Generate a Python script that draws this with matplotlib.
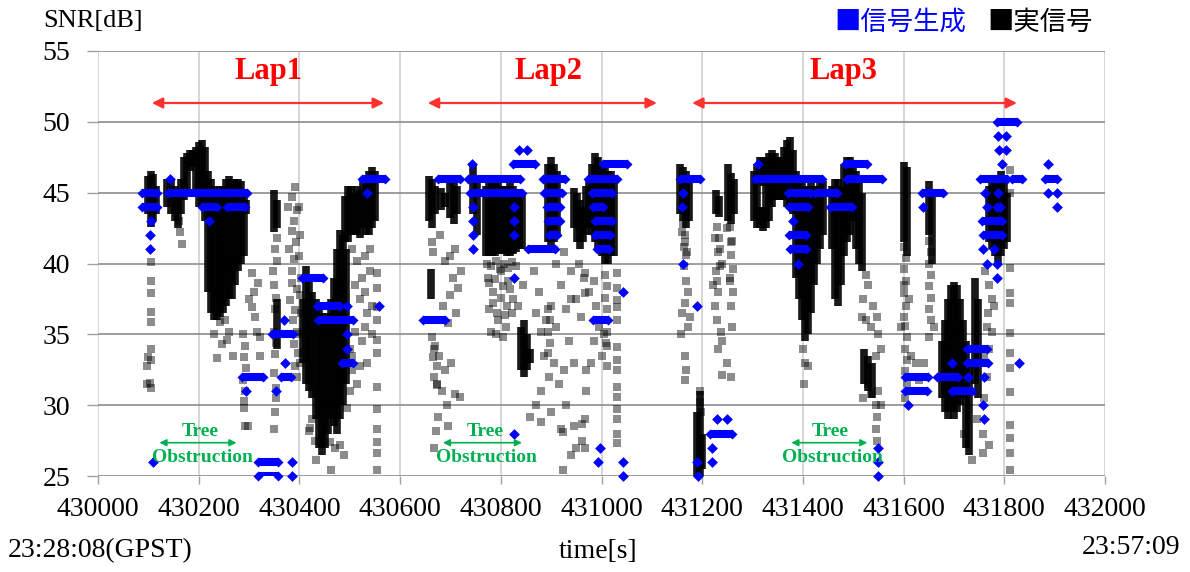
import matplotlib
matplotlib.use("Agg")
import matplotlib.pyplot as plt

# ---------------- data ----------------
# dense parts of the measured signal: (time, lowest SNR, highest SNR)
lap1_dense = [
    (430100, 43.5, 46.2), (430105, 42.6, 46.5), (430110, 43.0, 46.3), (430115, 43.5, 45.5),
    (430138, 44.0, 46.0), (430145, 43.5, 46.0), (430152, 43.0, 45.5), (430158, 42.5, 45.2), (430165, 43.5, 46.0),
    (430170, 44.5, 47.5), (430176, 45.0, 47.8), (430182, 46.5, 48.0), (430188, 46.8, 48.0), (430194, 45.0, 48.2),
    (430200, 44.0, 48.6), (430206, 44.0, 48.7), (430212, 43.0, 48.2),
    (430218, 38.0, 46.5), (430224, 36.5, 46.0), (430230, 36.0, 45.5), (430236, 36.0, 45.2), (430242, 36.2, 45.5),
    (430248, 36.5, 45.5), (430254, 37.0, 46.0), (430260, 37.5, 46.2), (430266, 37.5, 46.0), (430272, 38.5, 46.0),
    (430278, 39.5, 46.0), (430284, 40.0, 45.8), (430290, 40.5, 45.0),
    (430294, 43.5, 44.5),
    (430350, 42.2, 45.2), (430356, 42.5, 44.5), (430355, 34.0, 37.5),
    (430408, 33.0, 37.5), (430414, 31.5, 39.8), (430420, 31.0, 39.0), (430426, 30.5, 38.0), (430432, 29.0, 37.5),
    (430438, 27.0, 37.0), (430444, 26.5, 36.5), (430450, 27.0, 36.0), (430456, 28.0, 36.5), (430462, 29.0, 37.5),
    (430468, 28.5, 39.0), (430474, 28.0, 41.0), (430480, 29.0, 42.4), (430486, 30.0, 42.0), (430492, 31.5, 41.0),
    (430490, 41.5, 44.8), (430496, 41.5, 45.5), (430502, 42.0, 45.5), (430508, 42.0, 45.0), (430514, 42.0, 45.5),
    (430520, 41.8, 45.2), (430526, 42.5, 45.8), (430532, 42.0, 46.2), (430538, 42.0, 46.5), (430544, 42.5, 46.8),
    (430550, 43.0, 46.5),
]
lap2_dense = [
    (430658, 43.0, 46.2), (430664, 42.5, 46.0), (430670, 43.5, 45.5), (430682, 43.8, 45.3), (430690, 44.0, 45.0),
    (430700, 43.2, 45.9), (430708, 42.8, 46.0), (430714, 43.5, 45.5), (430662, 37.5, 39.6),
    (430745, 43.5, 47.0), (430752, 42.0, 46.0),
    (430770, 40.5, 45.5), (430776, 40.5, 46.0), (430782, 40.5, 46.0), (430788, 40.5, 46.0), (430794, 40.7, 46.0),
    (430800, 40.7, 45.5), (430806, 40.7, 45.5), (430812, 40.5, 45.5), (430818, 40.5, 46.0), (430824, 40.7, 45.5),
    (430830, 40.8, 45.0), (430836, 41.0, 45.0), (430842, 41.0, 45.0),
    (430840, 32.5, 35.5), (430846, 32.0, 36.0), (430852, 32.5, 35.0), (430858, 33.0, 34.0),
    (430894, 41.5, 47.0), (430900, 41.0, 47.5), (430906, 41.5, 47.0), (430912, 42.0, 46.5),
    (430945, 42.5, 45.3), (430952, 41.5, 45.0), (430958, 41.0, 44.5), (430964, 41.5, 44.0), (430970, 42.0, 45.5),
    (430976, 42.5, 46.0), (430982, 42.0, 47.0), (430988, 41.5, 47.8), (430994, 41.0, 47.5), (431000, 40.5, 47.0),
    (431006, 40.0, 47.0), (431012, 40.0, 46.5), (431018, 40.5, 46.5), (431024, 40.5, 46.0),
]
lap3_dense = [
    (431156, 43.5, 47.0), (431162, 43.0, 46.8), (431168, 42.5, 46.5), (431174, 43.0, 46.0),
    (431190, 25.0, 29.5), (431196, 24.8, 31.0), (431200, 25.5, 28.0),
    (431228, 43.5, 45.2), (431234, 43.3, 44.8),
    (431252, 43.0, 47.0), (431258, 42.8, 46.4), (431264, 43.5, 46.0),
    (431302, 43.0, 46.5), (431308, 42.5, 47.0), (431314, 45.8, 47.5), (431314, 42.5, 44.0), (431320, 45.5, 47.5),
    (431320, 42.3, 44.0), (431326, 42.5, 47.5), (431332, 43.0, 47.8), (431338, 44.0, 48.0), (431344, 44.5, 47.8),
    (431350, 44.5, 47.5), (431356, 44.5, 47.5), (431362, 44.5, 48.2), (431368, 44.0, 48.7), (431374, 44.0, 48.9),
    (431380, 43.5, 48.0),
    (431386, 39.0, 46.5), (431392, 37.5, 46.0), (431398, 36.0, 46.0), (431404, 34.5, 45.5), (431410, 35.0, 45.5),
    (431416, 36.5, 46.0), (431422, 38.5, 45.5), (431428, 40.0, 45.5), (431434, 41.0, 45.8), (431440, 42.0, 45.8),
    (431458, 41.0, 45.5), (431464, 37.5, 46.0), (431470, 37.0, 46.0), (431476, 38.5, 45.5),
    (431482, 40.5, 47.0), (431488, 41.5, 47.5), (431494, 42.0, 47.5), (431500, 43.0, 47.3), (431506, 41.0, 46.5),
    (431512, 40.0, 46.0), (431518, 39.5, 45.0),
    (431522, 31.5, 34.0), (431530, 31.0, 33.5), (431538, 30.5, 33.0),
    (431600, 41.5, 47.2), (431606, 40.5, 46.8),
    (431650, 42.0, 45.8), (431656, 40.0, 45.0),
    (431676, 30.5, 34.5), (431682, 29.5, 36.0), (431688, 29.0, 37.5), (431694, 29.5, 38.5), (431700, 29.0, 38.7),
    (431706, 29.5, 38.5), (431712, 30.0, 37.5), (431718, 30.5, 36.0), (431724, 27.0, 34.5), (431730, 26.5, 33.0),
    (431742, 31.5, 39.0), (431748, 30.5, 37.5),
    (431770, 41.5, 45.5), (431776, 41.0, 45.8), (431782, 40.5, 46.0), (431788, 40.0, 46.0), (431794, 40.5, 46.5),
    (431800, 41.0, 46.0), (431806, 41.5, 45.0),
]
# isolated samples of the measured signal: (time, SNR)
lap1_sparse = [
    (430105, 40.1), (430105, 38.8), (430106, 37.9), (430105, 36.6), (430106, 35.9), (430105, 34.0), (430106, 33.2),
    (430104, 31.6), (430106, 31.2), (430098, 32.8), (430098, 31.5), (430100, 33.4),
    (430163, 42.2), (430166, 41.4), (430160, 43.0),
    (430242, 35.9), (430252, 36.0), (430260, 35.2), (430246, 34.3), (430268, 33.5), (430236, 33.3), (430230, 35.0),
    (430256, 34.6),
    (430305, 39.3), (430310, 38.0), (430306, 36.9), (430312, 36.2), (430316, 35.2), (430300, 37.5), (430322, 34.8),
    (430322, 33.5), (430318, 38.6),
    (430292, 28.5), (430297, 28.5), (430290, 29.8),
    (430288, 35.0), (430292, 34.2), (430289, 33.4), (430293, 32.6), (430288, 31.8), (430292, 31.0), (430290, 30.3),
    (430352, 41.0), (430355, 40.2), (430350, 32.3), (430353, 31.2), (430354, 30.5), (430352, 29.5), (430350, 28.3),
    (430348, 39.5), (430356, 41.8),
    (430350, 38.5), (430354, 37.6), (430351, 36.8), (430350, 35.2), (430354, 34.4), (430351, 33.6),
    (430392, 45.4), (430386, 44.7), (430395, 43.8), (430390, 43.0), (430385, 42.3), (430393, 41.5), (430380, 41.0),
    (430390, 40.3), (430386, 39.5), (430395, 38.2), (430382, 37.4), (430392, 36.7), (430388, 36.0), (430395, 35.2),
    (430390, 34.3), (430398, 33.7), (430392, 32.8), (430396, 32.0), (430385, 38.6), (430378, 44.0),
    (430400, 44.0), (430402, 42.0), (430400, 40.5), (430403, 39.0), (430401, 37.8), (430404, 36.5), (430400, 35.0),
    (430402, 33.0),
    (430425, 29.0), (430430, 27.5), (430420, 28.2), (430433, 26.1), (430462, 25.4), (430461, 27.4), (430421, 28.4),
    (430470, 27.0), (430480, 27.2), (430488, 26.5), (430495, 29.8), (430500, 31.0), (430505, 32.5),
    (430505, 41.0), (430515, 40.2), (430525, 39.0), (430510, 38.5), (430520, 37.5), (430530, 38.0), (430540, 39.5),
    (430535, 36.5), (430545, 37.0), (430500, 36.0), (430510, 35.2), (430525, 34.5), (430505, 33.5), (430520, 32.8),
    (430535, 33.0), (430515, 31.5), (430500, 34.0), (430530, 35.5), (430545, 35.0), (430540, 41.0), (430530, 40.5),
    (430554, 39.3), (430554, 38.3), (430554, 36.9), (430554, 36.0), (430554, 34.6), (430554, 33.7), (430554, 31.3),
    (430554, 29.7), (430554, 28.3), (430554, 27.4), (430554, 26.6), (430554, 25.4),
]
lap2_sparse = [
    (430663, 41.5), (430680, 42.0), (430700, 40.5), (430710, 41.0), (430690, 40.2), (430665, 40.8),
    (430715, 38.3), (430700, 37.8), (430685, 37.0), (430712, 36.5), (430695, 35.8), (430720, 39.5), (430705, 39.0),
    (430668, 34.0), (430678, 33.5), (430690, 32.5), (430702, 33.0), (430673, 31.5), (430683, 31.0), (430693, 30.0),
    (430710, 30.8), (430676, 29.2), (430668, 27.0), (430672, 28.2), (430719, 30.6), (430695, 28.5),
    (430664, 34.8), (430670, 34.2), (430666, 33.4), (430673, 32.8), (430668, 32.0), (430674, 31.4),
    (430772, 40.0), (430780, 39.8), (430790, 40.2), (430798, 39.6), (430806, 40.0), (430814, 39.7), (430822, 40.1),
    (430830, 39.8), (430776, 38.6), (430788, 38.9), (430804, 38.4), (430818, 38.2), (430784, 37.2), (430800, 37.6),
    (430812, 37.0), (430792, 36.5), (430808, 36.4), (430776, 36.8),
    (430775, 39.0), (430785, 38.0), (430800, 39.5), (430815, 38.8), (430825, 37.5), (430795, 36.0), (430810, 35.5),
    (430822, 36.5), (430780, 35.2), (430835, 37.0), (430845, 38.5), (430790, 35.0), (430805, 34.8),
    (430866, 39.5), (430875, 38.0), (430870, 36.5), (430880, 35.2), (430890, 36.0), (430900, 37.0), (430910, 35.5),
    (430920, 38.5), (430930, 36.8), (430940, 37.5), (430885, 33.5), (430895, 32.0), (430905, 33.0), (430915, 31.5),
    (430925, 32.5), (430935, 34.5), (430945, 33.0), (430880, 31.0), (430870, 30.0), (430900, 29.5), (430930, 30.0),
    (430945, 28.5), (430950, 27.0), (430920, 28.3), (430940, 26.5), (430880, 28.8), (430924, 25.4), (430858, 29.2),
    (430961, 28.7), (430961, 27.5), (430924, 28.1), (430910, 40.0), (430925, 40.8), (430940, 39.5),
    (430893, 36.8), (430897, 36.0), (430894, 35.2), (430898, 34.4), (430893, 33.7),
    (430955, 40.0), (430965, 39.0), (430975, 38.0), (430950, 37.5), (430960, 36.2), (430985, 38.8), (430990, 37.0),
    (430995, 35.5), (430985, 34.5), (430980, 33.0),
    (431006, 39.2), (431010, 38.4), (431007, 37.6), (431011, 36.8), (431006, 36.0), (431010, 35.2), (431008, 34.4),
    (431031, 39.3), (431031, 38.3), (431031, 37.4), (431031, 36.9), (431031, 36.0), (431031, 34.1), (431031, 33.2),
    (431031, 32.5), (431031, 31.3), (431031, 30.6), (431031, 29.7), (431031, 29.0), (431031, 28.0), (431031, 27.3),
    (430968, 39.3), (430968, 37.9), (430970, 32.5), (430970, 31.0), (430968, 29.0), (430968, 27.0),
    (431005, 35.0), (431010, 34.2), (431000, 33.5), (431010, 32.8),
]
lap3_sparse = [
    (431160, 42.2), (431165, 41.5), (431170, 40.8), (431163, 39.8), (431168, 38.8), (431172, 38.0), (431165, 37.2),
    (431160, 36.5), (431175, 36.2), (431172, 35.5), (431158, 35.0), (431165, 33.5), (431168, 32.5), (431165, 31.8),
    (431162, 42.8), (431166, 42.0), (431163, 41.2), (431167, 40.6),
    (431195, 31.0), (431195, 30.2), (431197, 29.5),
    (431225, 41.8), (431235, 41.0), (431228, 39.5), (431240, 40.0), (431222, 38.5), (431232, 38.0), (431250, 42.5),
    (431258, 41.5), (431255, 39.0), (431262, 38.0), (431258, 37.0), (431225, 37.0), (431230, 36.0), (431238, 35.2),
    (431260, 35.5), (431232, 34.0), (431250, 33.0), (431258, 32.0), (431240, 34.5), (431239, 32.1),
    (431230, 42.6), (431234, 41.8), (431231, 40.8), (431235, 39.8), (431230, 38.8),
    (431256, 42.6), (431260, 41.6), (431257, 40.6), (431261, 39.6), (431256, 38.8),
    (431400, 34.0), (431405, 33.0), (431410, 32.8), (431402, 31.5),
    (431525, 39.2), (431530, 38.5), (431520, 37.5), (431540, 37.0), (431548, 36.2), (431525, 36.0), (431535, 35.5),
    (431550, 35.0), (431555, 34.0), (431545, 33.5), (431530, 31.5), (431520, 30.5), (431550, 31.0), (431555, 30.0),
    (431535, 30.8), (431517, 36.2),
    (431546, 30.0), (431547, 29.2), (431546, 28.3), (431547, 27.5),
    (431600, 41.2), (431604, 40.4), (431601, 39.6), (431605, 38.8), (431600, 37.9), (431604, 37.0), (431601, 36.2),
    (431603, 35.6), (431607, 34.8), (431602, 34.0), (431606, 33.2), (431603, 32.4), (431607, 31.6),
    (431600, 38.5), (431610, 37.5), (431602, 30.5),
    (431595, 35.5), (431615, 33.5), (431625, 33.0), (431630, 31.8), (431650, 34.8), (431660, 35.5), (431640, 33.0),
    (431650, 41.6), (431654, 40.8), (431651, 40.0), (431655, 39.2), (431650, 38.4), (431654, 37.6), (431651, 36.8),
    (431655, 36.0),
    (431762, 39.5), (431770, 38.5), (431775, 37.5), (431768, 36.5), (431780, 37.0), (431765, 35.5), (431775, 35.2),
    (431770, 34.0), (431760, 33.5), (431765, 32.0), (431760, 30.5), (431758, 28.0), (431770, 27.2),
    (431811, 39.7), (431811, 37.9), (431811, 37.2), (431811, 35.1), (431811, 33.7), (431811, 32.6), (431811, 30.9),
    (431811, 28.6), (431811, 27.7), (431811, 26.6), (431811, 25.4), (431811, 46.6), (431811, 45.0),
    (431736, 26.1), (431758, 26.6), (431720, 28.0), (431745, 29.0),
]
# generated signal: runs of equal SNR (start time, end time, SNR)
gen_runs = [
    (430087, 430117, 45), (430087, 430118, 44), (430139, 430296, 45), (430207, 430236, 44), (430256, 430292, 44),
    (430286, 430328, 32), (430346, 430387, 35), (430363, 430383, 32), (430318, 430358, 26), (430318, 430358, 25),
    (430405, 430447, 39), (430435, 430481, 37), (430437, 430506, 36), (430485, 430506, 33), (430524, 430570, 46),
    (430646, 430690, 36), (430675, 430719, 46), (430735, 430838, 46), (430739, 430842, 45), (430824, 430868, 47),
    (430854, 430908, 41), (430884, 430927, 46), (430886, 430922, 45), (430892, 430918, 44), (430894, 430918, 43),
    (430896, 430912, 42), (431003, 431051, 47), (430973, 431031, 46), (430981, 431021, 45), (430983, 431003, 44),
    (430987, 431021, 43), (430987, 431017, 42), (430991, 431015, 41), (430983, 431013, 36),
    (431156, 431196, 46), (431216, 431259, 28), (431305, 431438, 46), (431370, 431414, 45), (431424, 431468, 45),
    (431372, 431410, 44), (431372, 431406, 42), (431374, 431406, 41), (431454, 431497, 44), (431484, 431527, 47),
    (431488, 431557, 46), (431603, 431648, 32), (431603, 431646, 31), (431636, 431678, 45), (431726, 431766, 34),
    (431726, 431768, 33), (431666, 431708, 32), (431696, 431736, 31), (431752, 431805, 46), (431815, 431835, 46),
    (431786, 431825, 50), (431756, 431796, 43), (431758, 431796, 42), (431881, 431905, 46),
]
# generated signal: single samples (time, SNR)
gen_points = [
    (430105, 43), (430103, 42), (430103, 41), (430109, 26), (430143, 46), (430220, 43),
    (430293, 31), (430369, 36), (430371, 33), (430353, 31), (430385, 26), (430385, 25),
    (430495, 37), (430495, 35), (430495, 34), (430558, 37), (430534, 45),
    (430743, 47), (430745, 44), (430745, 43), (430745, 42), (430745, 41), (430836, 48), (430852, 48),
    (430826, 44), (430826, 43), (430826, 42), (430826, 39), (430826, 28),
    (431043, 38), (430997, 27), (430993, 26), (431043, 26), (431043, 25),
    (431162, 45), (431160, 44), (431162, 40), (431190, 37), (431190, 26), (431192, 25),
    (431229, 29), (431249, 29), (431219, 27), (431219, 26),
    (431311, 47), (431380, 43), (431390, 40), (431549, 27), (431549, 26), (431549, 25),
    (431608, 30), (431638, 44), (431696, 33), (431728, 32), (431760, 32), (431758, 30), (431760, 29),
    (431788, 49), (431804, 49), (431790, 48), (431804, 48), (431796, 47),
    (431762, 45), (431788, 45), (431766, 44), (431786, 44), (431792, 44),
    (431758, 41), (431780, 41), (431766, 40), (431786, 40), (431786, 39), (431829, 33),
    (431887, 47), (431887, 45), (431905, 45), (431905, 44),
]
x_ticks = [430000, 430200, 430400, 430600, 430800, 431000, 431200, 431400, 431600, 431800, 432000]
y_ticks = [25, 30, 35, 40, 45, 50, 55]
laps = [("Lap1", 430107, 430568, 430338), ("Lap2", 430655, 431110, 430894), ("Lap3", 431180, 431825, 431480)]
tree_spans = [(430122, 430275, 430203), (430685, 430842, 430768), (431377, 431528, 431455)]

# ---------------- drawing ----------------
plt.rcParams['font.family'] = ['Liberation Serif', 'Noto Sans CJK JP']

fig = plt.figure(figsize=(11.9, 5.72), dpi=100)
ax = fig.add_axes([98 / 1190, 96 / 572, 1007 / 1190, 425 / 572])
ax.set_xlim(430000, 432000)
ax.set_ylim(25, 55)

for spans in (lap1_dense, lap2_dense, lap3_dense):
    ax.vlines([s[0] for s in spans], [s[1] for s in spans], [s[2] for s in spans],
              colors='black', linewidth=5.5, alpha=0.9, zorder=2)
for pts in (lap1_sparse, lap2_sparse, lap3_sparse):
    ax.scatter([p[0] for p in pts], [p[1] for p in pts], marker='s', s=28, c='black',
               alpha=0.45, linewidths=0, zorder=2, clip_on=False)

blue = '#0000ff'
ax.hlines([r[2] for r in gen_runs], [r[0] for r in gen_runs], [r[1] for r in gen_runs],
          colors=blue, linewidth=5.8, zorder=4)
ends_t = [r[0] for r in gen_runs] + [r[1] for r in gen_runs]
ends_v = [r[2] for r in gen_runs] * 2
ax.scatter(ends_t, ends_v, marker='D', s=26, c=blue, linewidths=0, zorder=4, clip_on=False)
ax.scatter([p[0] for p in gen_points], [p[1] for p in gen_points], marker='D', s=30, c=blue,
           linewidths=0, zorder=4, clip_on=False)

# annotations
for name, t0, t1, tc in laps:
    ax.annotate('', xy=(t1, 51.33), xytext=(t0, 51.33),
                arrowprops=dict(arrowstyle='<|-|>', color='#ff3030', lw=1.6, mutation_scale=16,
                                shrinkA=0, shrinkB=0), zorder=5)
    ax.text(tc, 53.55, name, color='#ff0000', fontsize=22, fontweight='bold',
            ha='center', va='center', zorder=5)
green = '#00b050'
for t0, t1, tc in tree_spans:
    ax.annotate('', xy=(t1, 27.35), xytext=(t0, 27.35),
                arrowprops=dict(arrowstyle='<|-|>', color=green, lw=1.2, mutation_scale=10,
                                shrinkA=0, shrinkB=0), zorder=5)
    ax.text(tc, 28.15, 'Tree', color=green, fontsize=14, fontweight='bold', ha='center', va='center', zorder=5)
    ax.text(tc + 4, 26.3, 'Obstruction', color=green, fontsize=14, fontweight='bold',
            ha='center', va='center', zorder=5)

ax.set_xticks(x_ticks)
ax.set_xticklabels([str(v) for v in x_ticks])
ax.set_yticks(y_ticks)
ax.set_yticklabels([str(v) for v in y_ticks])
ax.tick_params(axis='x', direction='out', length=6, width=1, color='#a0a0a0', labelsize=20, pad=9)
ax.tick_params(axis='y', direction='out', length=8, width=1, color='#a0a0a0', labelsize=20, pad=12)
ax.grid(axis='y', color='#8c8c8c', linewidth=1.2, zorder=0)
ax.grid(axis='x', color='#d0d0d0', linewidth=1.2, zorder=0)
ax.set_axisbelow(True)
for sp in ax.spines.values():
    sp.set_visible(False)

fig.text(93 / 1190, 1 - 21 / 572, 'SNR[dB]', fontsize=19, ha='center', va='center')
fig.text(834 / 1190, 1 - 22 / 572, '■信号生成', fontsize=19, color=blue, ha='left', va='center',
         family=['Noto Sans CJK JP'])
fig.text(987 / 1190, 1 - 22 / 572, '■実信号', fontsize=19, color='black', ha='left', va='center',
         family=['Noto Sans CJK JP'])
fig.text(598 / 1190, 1 - 551 / 572, 'time[s]', fontsize=20, ha='center', va='center')
fig.text(8 / 1190, 1 - 551 / 572, '23:28:08(GPST)', fontsize=20, ha='left', va='center')
fig.text(1180 / 1190, 1 - 548 / 572, '23:57:09', fontsize=20, ha='right', va='center')

fig.savefig('out.png', dpi=100)
